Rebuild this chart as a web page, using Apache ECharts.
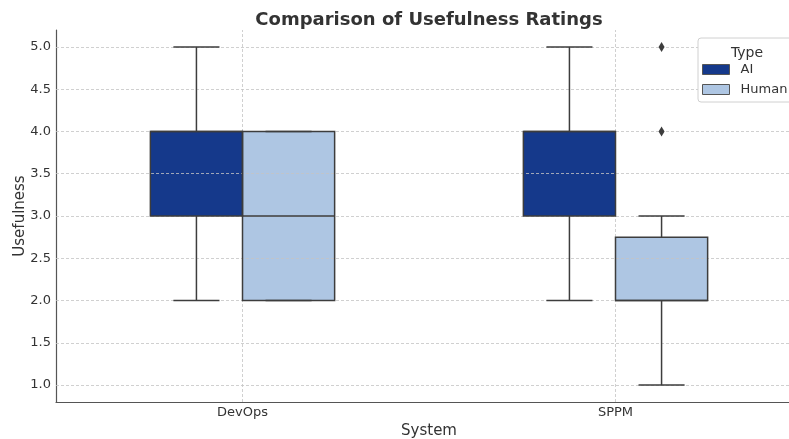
<!DOCTYPE html>
<html>
<head>
<meta charset="utf-8">
<script src="https://cdn.jsdelivr.net/npm/echarts@6/dist/echarts.min.js"></script>
<style>
  html, body { margin: 0; padding: 0; background: #fff; }
  #chart { width: 789px; height: 439px; }
</style>
</head>
<body>
<div id="chart"></div>
<script>
// system categories on the x axis
var categories = ["DevOps", "SPPM"];
// [min, q1, median, q3, max] per category
var aiStats = [[2, 3, 4, 4, 5], [2, 3, 4, 4, 5]];
var humanStats = [[2, 2, 3, 4, 4], [1, 2, 2, 2.75, 3]];
// [category index, value]
var humanOutliers = [[1, 4], [1, 5]];
var yTicks = [1.0, 1.5, 2.0, 2.5, 3.0, 3.5, 4.0, 4.5, 5.0];

var aiColor = "#15398b";
var humanColor = "#aec6e3";
var edge = "#3d3d3d";
var font = "DejaVu Sans";

function boxWidth(api) {
  return api.size([1, 0])[0] * 0.247;
}

// filled box only (drawn under the grid lines)
function fillRenderer(side, fill) {
  return function (params, api) {
    var c = api.value(0);
    var w = boxWidth(api);
    var px = api.coord([c, api.value(3)])[0] + side * w / 2;
    var yQ1 = api.coord([c, api.value(2)])[1];
    var yQ3 = api.coord([c, api.value(4)])[1];
    return { type: "rect", shape: { x: px - w / 2, y: yQ3, width: w, height: yQ1 - yQ3 },
      style: { fill: fill } };
  };
}

// whiskers, caps, box outline and median (drawn over the grid lines)
function outlineRenderer(side) {
  return function (params, api) {
    var c = api.value(0);
    var w = boxWidth(api);
    var px = api.coord([c, api.value(3)])[0] + side * w / 2;
    function y(k) { return api.coord([c, api.value(k)])[1]; }
    function line(x1, y1, x2, y2) {
      return { type: "line", shape: { x1: x1, y1: y1, x2: x2, y2: y2 },
        style: { stroke: edge, lineWidth: 1.5 } };
    }
    var yMin = y(1), yQ1 = y(2), yMed = y(3), yQ3 = y(4), yMax = y(5);
    return {
      type: "group",
      children: [
        line(px, yMin, px, yQ1),
        line(px, yQ3, px, yMax),
        line(px - w / 4, yMin, px + w / 4, yMin),
        line(px - w / 4, yMax, px + w / 4, yMax),
        { type: "rect", shape: { x: px - w / 2, y: yQ3, width: w, height: yQ1 - yQ3 },
          style: { fill: null, stroke: edge, lineWidth: 1.5 } },
        line(px - w / 2, yMed, px + w / 2, yMed)
      ]
    };
  };
}

function outlierRenderer(side) {
  return function (params, api) {
    var c = api.value(0);
    var w = boxWidth(api);
    var p = api.coord([c, api.value(1)]);
    var x = p[0] + side * w / 2;
    return {
      type: "polygon",
      shape: { points: [[x, p[1] - 5], [x + 3, p[1]], [x, p[1] + 5], [x - 3, p[1]]] },
      style: { fill: edge }
    };
  };
}

var gridLines = yTicks.map(function (v) { return { yAxis: v }; })
  .concat(categories.map(function (c) { return { xAxis: c }; }));

var chart = echarts.init(document.getElementById("chart"));

var option = {
  animation: false,
  backgroundColor: "#fff",
  textStyle: { fontFamily: font },
  title: [
    {
      text: "Comparison of Usefulness Ratings",
      left: 424, top: 6, textAlign: "center",
      textStyle: { fontFamily: font, fontSize: 18, fontWeight: "bold", color: "#333" }
    },
    {
      text: "Type",
      left: 742, top: 41, textAlign: "center", z: 10,
      textStyle: { fontFamily: font, fontSize: 14, fontWeight: "normal", color: "#333" }
    }
  ],
  legend: {
    orient: "vertical",
    left: 698, top: 38,
    padding: [25, 30, 6, 4],
    itemWidth: 27, itemHeight: 10, itemGap: 7,
    backgroundColor: "#fff",
    borderColor: "#d0d0d0", borderWidth: 1, borderRadius: 3,
    textStyle: { fontFamily: font, fontSize: 13, color: "#333", padding: [0, 0, 0, 6] },
    data: [
      { name: "AI", icon: "rect", itemStyle: { color: aiColor, borderColor: "#555", borderWidth: 1 } },
      { name: "Human", icon: "rect", itemStyle: { color: humanColor, borderColor: "#555", borderWidth: 1 } }
    ]
  },
  grid: { left: 56, right: -13, top: 30, bottom: 37, outerBoundsMode: "none", containLabel: false },
  xAxis: {
    type: "category",
    data: categories,
    name: "System",
    nameLocation: "middle",
    nameGap: 22,
    nameMoveOverlap: false,
    nameTextStyle: { fontFamily: font, fontSize: 15, color: "#333" },
    axisLine: { lineStyle: { color: "#555", width: 1.2 } },
    axisTick: { alignWithLabel: true, length: 4, lineStyle: { color: "#555" } },
    axisLabel: { fontFamily: font, fontSize: 13, color: "#333", margin: 4 },
    splitLine: { show: false }
  },
  yAxis: {
    type: "value",
    min: 0.8, max: 5.2, splitNumber: 9,
    name: "Usefulness",
    nameLocation: "middle",
    nameGap: 28,
    nameMoveOverlap: false,
    nameTextStyle: { fontFamily: font, fontSize: 15, color: "#333" },
    axisLine: { show: true, lineStyle: { color: "#555", width: 1.2 } },
    axisTick: { show: false },
    axisLabel: {
      fontFamily: font, fontSize: 13, color: "#333", margin: 5,
      showMinLabel: false, showMaxLabel: false,
      formatter: function (v) { return yTicks.indexOf(v) >= 0 ? v.toFixed(1) : ""; }
    },
    splitLine: { show: false }
  },
  series: [
    {
      name: "AI",
      type: "custom",
      z: 1,
      itemStyle: { color: aiColor },
      encode: { x: 0, y: [1, 2, 3, 4, 5] },
      data: aiStats.map(function (s, i) { return [i].concat(s); }),
      renderItem: fillRenderer(-1, aiColor),
      markLine: {
        silent: true,
        z: 2,
        symbol: ["none", "none"],
        label: { show: false },
        lineStyle: { color: "#c4c4c4", width: 0.8, type: [3, 2] },
        data: gridLines
      }
    },
    {
      name: "Human",
      type: "custom",
      z: 1,
      itemStyle: { color: humanColor },
      encode: { x: 0, y: [1, 2, 3, 4, 5] },
      data: humanStats.map(function (s, i) { return [i].concat(s); }),
      renderItem: fillRenderer(1, humanColor)
    },
    {
      name: "AI outline",
      type: "custom",
      z: 3,
      encode: { x: 0, y: [1, 2, 3, 4, 5] },
      data: aiStats.map(function (s, i) { return [i].concat(s); }),
      renderItem: outlineRenderer(-1)
    },
    {
      name: "Human outline",
      type: "custom",
      z: 3,
      encode: { x: 0, y: [1, 2, 3, 4, 5] },
      data: humanStats.map(function (s, i) { return [i].concat(s); }),
      renderItem: outlineRenderer(1)
    },
    {
      name: "Human outliers",
      type: "custom",
      z: 3,
      encode: { x: 0, y: 1 },
      data: humanOutliers,
      renderItem: outlierRenderer(1)
    }
  ]
};

chart.setOption(option);
</script>
</body>
</html>
